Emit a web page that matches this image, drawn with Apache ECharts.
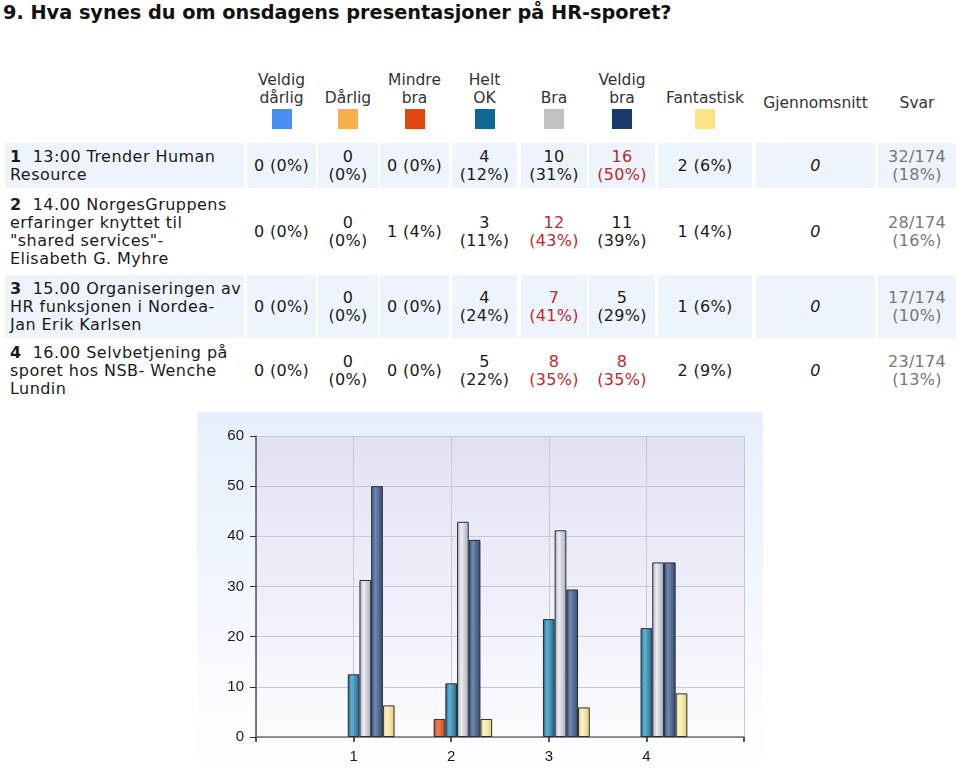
<!DOCTYPE html>
<html>
<head>
<meta charset="utf-8">
<script src="https://cdn.jsdelivr.net/npm/echarts@6/dist/echarts.min.js"></script>
<style>
  html, body { margin: 0; padding: 0; background: #fff; }
  body { width: 960px; height: 773px; position: relative; overflow: hidden; font-family: "DejaVu Sans", Verdana, sans-serif; color: #1a1a1a; }
  #title { position: absolute; left: 3px; top: 1px; font-weight: bold; font-size: 19.3px; line-height: 24px; white-space: nowrap; color: #111; }
  .cell { position: absolute; display: flex; align-items: center; justify-content: center; text-align: center; font-size: 16px; line-height: 18px; box-sizing: border-box; letter-spacing: 0.3px; }
  .qcell { justify-content: flex-start; text-align: left; padding-left: 5px; padding-right: 2px; letter-spacing: 0.45px; }
  .hdr { position: absolute; text-align: center; font-size: 15.5px; line-height: 18px; color: #333; }
  .sw { position: absolute; width: 20px; height: 20px; }
  #chart { position: absolute; left: 197px; top: 412px; width: 566px; height: 361px; background: linear-gradient(to bottom, #e6effb 0%, #f4f8fe 60%, #ffffff 100%); }
</style>
</head>
<body>
<div id="title">9. Hva synes du om onsdagens presentasjoner på HR-sporet?</div>
<div id="table"></div>
<div id="chart"></div>
<script>
// ---------- data ----------
const answerNames = ["Veldig dårlig", "Dårlig", "Mindre bra", "Helt OK", "Bra", "Veldig bra", "Fantastisk"];
const headerLines = [["Veldig", "dårlig"], ["Dårlig"], ["Mindre", "bra"], ["Helt", "OK"], ["Bra"], ["Veldig", "bra"], ["Fantastisk"]];
const extraHeaders = ["Gjennomsnitt", "Svar"];
const answerColors = ["#4a8ff0", "#f8b04c", "#e0480f", "#0e6896", "#c2c2c2", "#193a6c", "#fde388"];

const questionNumbers = ["1", "2", "3", "4"];
const questions = [
  "13:00 Trender Human Resource",
  "14.00 NorgesGruppens erfaringer knyttet til \"shared services\"- Elisabeth G. Myhre",
  "15.00 Organiseringen av HR funksjonen i Nordea- Jan Erik Karlsen",
  "16.00 Selvbetjening på sporet hos NSB- Wenche Lundin"
];

// counts and percentages per answer column (one entry per question)
const veldigDarligCount = [0, 0, 0, 0];   const veldigDarligPct = [0, 0, 0, 0];
const darligCount = [0, 0, 0, 0];         const darligPct = [0, 0, 0, 0];
const mindreBraCount = [0, 1, 0, 0];      const mindreBraPct = [0, 4, 0, 0];
const heltOKCount = [4, 3, 4, 5];         const heltOKPct = [12, 11, 24, 22];
const braCount = [10, 12, 7, 8];          const braPct = [31, 43, 41, 35];
const veldigBraCount = [16, 11, 5, 8];    const veldigBraPct = [50, 39, 29, 35];
const fantastiskCount = [2, 1, 1, 2];     const fantastiskPct = [6, 4, 6, 9];
const gjennomsnitt = ["0", "0", "0", "0"];
const svarCount = [32, 28, 17, 23];
const svarTotal = 174;
const svarPct = [18, 16, 10, 13];

// bar chart values (percent)
const xCategories = ["", "1", "2", "3", "4", ""];
const yTicks = [0, 10, 20, 30, 40, 50, 60];
const chartVeldigDarlig = [0, 0, 0, 0];
const chartDarlig = [0, 0, 0, 0];
const chartMindreBra = [0, 3.6, 0, 0];
const chartHeltOK = [12.5, 10.7, 23.5, 21.7];
const chartBra = [31.3, 42.9, 41.2, 34.8];
const chartVeldigBra = [50, 39.3, 29.4, 34.8];
const chartFantastisk = [6.3, 3.6, 5.9, 8.7];

// ---------- layout (styles only) ----------
const colX = [[5, 244], [247, 316], [318, 378], [380, 449], [452, 517], [521, 587], [589, 655], [658, 752], [756, 875], [878, 956]];
const rowY = [[143, 188], [190, 273], [275, 338], [340, 401]];
const rowBg = ["#eef4fc", "#ffffff", "#eef4fc", "#ffffff"];
const splitCol = [false, true, false, true, true, true, false];

const tbl = document.getElementById("table");
function add(cls, x, y, w, h, html, style) {
  const d = document.createElement("div");
  d.className = cls;
  d.style.left = x + "px"; d.style.top = y + "px";
  if (w != null) d.style.width = w + "px";
  if (h != null) d.style.height = h + "px";
  d.innerHTML = html;
  if (style) Object.assign(d.style, style);
  tbl.appendChild(d);
  return d;
}

// header
headerLines.forEach((lines, i) => {
  const [x0, x1] = colX[i + 1];
  const w = x1 - x0;
  const h = lines.length * 18;
  add("hdr", x0 - 6, 107 - h, w + 12, h, lines.join("<br>"));
  const s = document.createElement("div");
  s.className = "sw";
  s.style.left = Math.round((x0 + x1) / 2 - 10) + "px";
  s.style.top = "109px";
  s.style.background = answerColors[i];
  tbl.appendChild(s);
});
extraHeaders.forEach((t, j) => {
  const [x0, x1] = colX[8 + j];
  add("hdr", x0, 94, x1 - x0, 18, t);
});

// rows
const counts = [veldigDarligCount, darligCount, mindreBraCount, heltOKCount, braCount, veldigBraCount, fantastiskCount];
const pcts = [veldigDarligPct, darligPct, mindreBraPct, heltOKPct, braPct, veldigBraPct, fantastiskPct];
questions.forEach((q, r) => {
  const [y0, y1] = rowY[r];
  const h = y1 - y0;
  const bg = rowBg[r];
  add("cell qcell", colX[0][0], y0, colX[0][1] - colX[0][0], h,
      "<div><b>" + questionNumbers[r] + "</b>&nbsp; " + q.replace(/</g, "&lt;") + "</div>", { background: bg });
  const rowMax = Math.max(...counts.map(c => c[r]));
  counts.forEach((c, i) => {
    const [x0, x1] = colX[i + 1];
    const txt = c[r] + (splitCol[i] ? "<br>" : " ") + "(" + pcts[i][r] + "%)";
    add("cell", x0, y0, x1 - x0, h, "<div>" + txt + "</div>",
        { background: bg, color: c[r] === rowMax ? "#c0282d" : "#1a1a1a" });
  });
  add("cell", colX[8][0], y0, colX[8][1] - colX[8][0], h, "<i>" + gjennomsnitt[r] + "</i>", { background: bg });
  add("cell", colX[9][0], y0, colX[9][1] - colX[9][0], h,
      "<div>" + svarCount[r] + "/" + svarTotal + "<br>(" + svarPct[r] + "%)</div>", { background: bg, color: "#777" });
});

// ---------- chart ----------
const chartSeriesData = [chartVeldigDarlig, chartDarlig, chartMindreBra, chartHeltOK, chartBra, chartVeldigBra, chartFantastisk];
const barGrad = [
  ["#2f6fc4", "#7fb0f4", "#3473c8"],
  ["#d98a2a", "#ffd08a", "#dc8e2e"],
  ["#b8441f", "#f08050", "#c04a22"],
  ["#1d6486", "#62b2d4", "#226688"],
  ["#a2a6b0", "#eceef3", "#a8acb6"],
  ["#364f7a", "#7089b2", "#33476d"],
  ["#e6cf7a", "#fff4c6", "#e2cb76"]
];
function grad(c) {
  return { type: "linear", x: 0, y: 0, x2: 1, y2: 0,
    colorStops: [{ offset: 0, color: c[0] }, { offset: 0.35, color: c[1] }, { offset: 1, color: c[2] }] };
}
const chart = echarts.init(document.getElementById("chart"), null, { renderer: "canvas" });
chart.setOption({
  animation: false,
  grid: {
    left: 59, top: 24, width: 488, height: 301, show: true, borderWidth: 0,
    backgroundColor: { type: "linear", x: 0, y: 0, x2: 0, y2: 1,
      colorStops: [{ offset: 0, color: "#e0e2f3" }, { offset: 1, color: "#fbfbfe" }] }
  },
  xAxis: {
    type: "category", data: xCategories, boundaryGap: false,
    axisLine: { lineStyle: { color: "#707070", width: 1.5 } },
    axisTick: { show: true, length: 5, lineStyle: { color: "#222", width: 1.5 } },
    axisLabel: { color: "#1a1a1a", fontFamily: "Liberation Sans, Arial", fontSize: 15, margin: 12 },
    splitLine: { show: true, lineStyle: { color: "#c6c8d2", width: 1 } }
  },
  yAxis: {
    type: "value", min: yTicks[0], max: yTicks[yTicks.length - 1], interval: yTicks[1] - yTicks[0],
    axisLine: { show: true, lineStyle: { color: "#555", width: 1.5 } },
    axisTick: { show: true, length: 6, lineStyle: { color: "#333" } },
    axisLabel: { color: "#1a1a1a", fontFamily: "Liberation Sans, Arial", fontSize: 15, margin: 12 },
    splitLine: { show: true, lineStyle: { color: "#c6c8d2", width: 1 } }
  },
  series: answerNames.map((name, i) => ({
    name: name, type: "bar", barWidth: 11.7, barGap: "0%",
    data: ["-", ...chartSeriesData[i].map(v => v === 0 ? { value: v, itemStyle: { borderWidth: 0 } } : v), "-"],
    itemStyle: { color: grad(barGrad[i]), borderColor: "#2a2e3a", borderWidth: 1 }
  }))
});
</script>
</body>
</html>
